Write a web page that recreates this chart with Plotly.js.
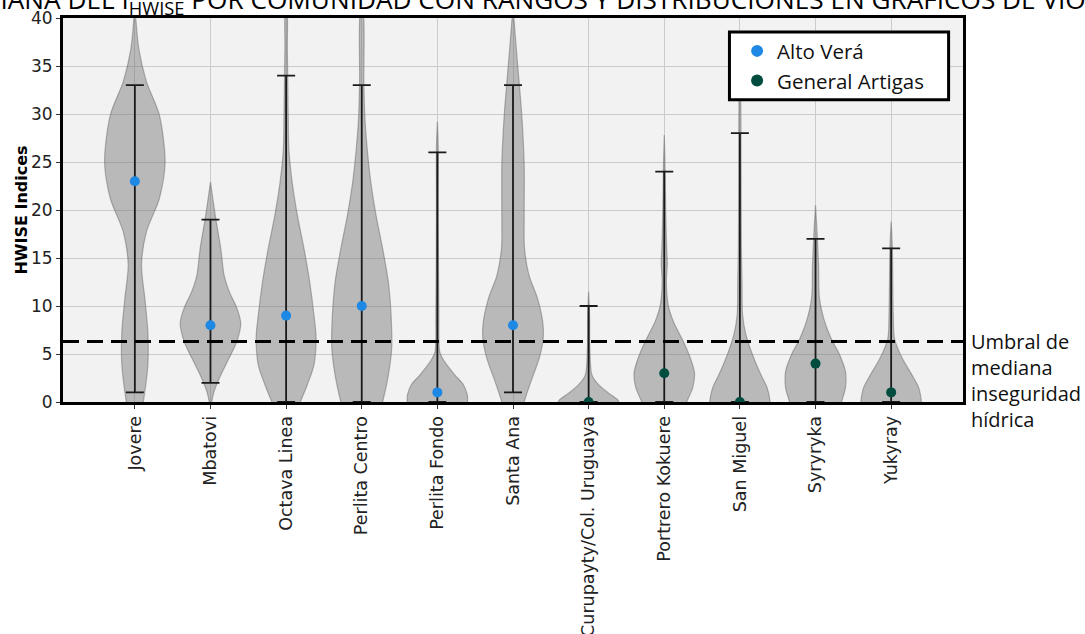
<!DOCTYPE html>
<html>
<head>
<meta charset="utf-8">
<script src="https://cdn.plot.ly/plotly-3.0.1.min.js"></script>
<style>html,body{margin:0;padding:0;background:#fff;} #chart{width:1085px;height:634px;}</style>
</head>
<body>
<div id="chart"></div>
<script>
// ---- data ----
const categories = ["Jovere", "Mbatovi", "Octava Linea", "Perlita Centro", "Perlita Fondo", "Santa Ana",
  "Curupayty/Col. Uruguaya", "Portrero Kokuere", "San Miguel", "Syryryka", "Yukyray"];
const regions = ["Alto Verá", "Alto Verá", "Alto Verá", "Alto Verá", "Alto Verá", "Alto Verá",
  "General Artigas", "General Artigas", "General Artigas", "General Artigas", "General Artigas"];
const medians = [23, 8, 9, 10, 1, 8, 0, 3, 0, 4, 1];
const mins = [1, 2, 0, 0, 0, 1, 0, 0, 0, 0, 0];
const maxs = [33, 19, 34, 33, 26, 33, 10, 24, 28, 17, 16];
const threshold = 6.3;
const regionNames = ["Alto Verá", "General Artigas"];
const yTicks = [0, 5, 10, 15, 20, 25, 30, 35, 40];

// violin density profiles (relative width 0..1 at given HWISE levels)
const violinLevels = [
  [-1, 0, 3.85, 7.3, 10.8, 14.3, 17.7, 21.2, 25, 29.9, 33.4, 36.8, 40, 41.5],
  [-0.6, 0, 1.1, 2.8, 4.6, 6.3, 8.2, 9.8, 11.5, 13.2, 16, 19, 20.9, 22.9],
  [-1, 0, 1.8, 3.85, 6.7, 9.06, 12.5, 16, 19.5, 22.9, 26.4, 29.9, 36.8, 41],
  [-1, 0, 2.8, 5.6, 9.06, 12.5, 16, 19.5, 22.9, 26.4, 29.9, 33.4, 41],
  [-1, 0, 0.73, 1.8, 2.8, 4.2, 5.2, 9.06, 19.5, 26.4, 29.2],
  [-1, 0, 2.1, 4.6, 6.7, 8.4, 10.8, 13.2, 16, 19.5, 24.7, 29.9, 33.4, 36.8, 40, 41.5],
  [-1, 0, 0.2, 0.9, 1.8, 2.8, 5.6, 9.06, 11.5],
  [-1, 0, 1.5, 3.0, 4.6, 6.3, 8.4, 10.1, 12.5, 14.5, 16, 19.5, 24, 27.8],
  [-1, 0, 1.5, 2.8, 4.9, 7, 9.06, 12.5, 16, 24, 31, 34],
  [-1, 0, 1.5, 3.16, 4.9, 6.6, 8.4, 10.8, 14.3, 17.7, 20.5],
  [-1, 0, 1.5, 2.8, 4.6, 6.6, 9.06, 16, 18.8]
];
const violinWidths = [
  [0.22, 0.28, 0.43, 0.43, 0.33, 0.22, 0.38, 0.81, 1.0, 0.81, 0.38, 0.13, 0.03, 0],
  [0, 0.04, 0.12, 0.34, 0.62, 0.87, 1.0, 0.87, 0.62, 0.45, 0.34, 0.18, 0.09, 0],
  [0.35, 0.47, 0.7, 0.92, 0.99, 0.92, 0.78, 0.59, 0.37, 0.2, 0.09, 0.07, 0.04, 0.02],
  [0.6, 0.69, 0.88, 0.99, 0.97, 0.88, 0.69, 0.47, 0.3, 0.18, 0.1, 0.07, 0.03],
  [1.0, 1.0, 0.99, 0.86, 0.58, 0.24, 0.08, 0.05, 0.03, 0.03, 0],
  [0.3, 0.37, 0.59, 0.87, 1.0, 0.98, 0.81, 0.53, 0.38, 0.37, 0.37, 0.29, 0.2, 0.11, 0.03, 0],
  [1.0, 1.0, 0.97, 0.67, 0.33, 0.11, 0.04, 0.03, 0],
  [0.6, 0.74, 0.94, 1.0, 0.86, 0.63, 0.3, 0.13, 0.07, 0.1, 0.08, 0.05, 0.03, 0],
  [1.0, 1.0, 0.9, 0.7, 0.42, 0.2, 0.09, 0.07, 0.05, 0.04, 0.03, 0],
  [0.8, 0.86, 0.99, 0.99, 0.8, 0.52, 0.3, 0.13, 0.1, 0.05, 0],
  [1.0, 1.0, 0.91, 0.69, 0.36, 0.11, 0.07, 0.04, 0]
];

// ---- styles ----
const regionColors = {"Alto Verá": "#1E88E5", "General Artigas": "#004D40"};
const HALF = 0.4; // max half width of a violin in category units
const idx = categories.map((_, i) => i);

const traces = [];
// violins
categories.forEach((c, i) => {
  const ys = violinLevels[i], ws = violinWidths[i];
  const xs = [], yy = [];
  for (let k = 0; k < ys.length; k++) { xs.push(i + HALF * ws[k]); yy.push(ys[k]); }
  for (let k = ys.length - 1; k >= 0; k--) { xs.push(i - HALF * ws[k]); yy.push(ys[k]); }
  xs.push(xs[0]); yy.push(yy[0]);
  traces.push({
    type: "scatter", mode: "lines", x: xs, y: yy, fill: "toself",
    fillcolor: "rgba(115,115,115,0.45)",
    line: {color: "rgba(95,95,95,0.45)", width: 1.2, shape: "spline", smoothing: 0.8},
    hoverinfo: "skip", showlegend: false
  });
});
// range whiskers (min-max)
traces.push({
  type: "scatter", mode: "markers", x: idx, y: medians,
  marker: {size: 1, color: "rgba(0,0,0,0)"},
  error_y: {type: "data", symmetric: false,
    array: maxs.map((m, i) => m - medians[i]),
    arrayminus: mins.map((m, i) => medians[i] - m),
    color: "#1a1a1a", thickness: 1.8, width: 9},
  hoverinfo: "skip", showlegend: false
});
// medians per region
regionNames.forEach(r => {
  const xs = [], ys = [];
  idx.forEach(i => { if (regions[i] === r) { xs.push(i); ys.push(medians[i]); } });
  traces.push({
    type: "scatter", mode: "markers", name: r, x: xs, y: ys,
    marker: {size: 10, color: regionColors[r]}, cliponaxis: true
  });
});

const layout = {
  width: 1085, height: 634,
  paper_bgcolor: "#ffffff", plot_bgcolor: "#f2f2f2",
  margin: {l: 63, r: 122, t: 18, b: 232},
  title: {
    text: "MEDIANA DEL I<sub>HWISE</sub> POR COMUNIDAD CON RANGOS Y DISTRIBUCIONES EN GRÁFICOS DE VIOLÍN",
    font: {family: "Open Sans", size: 26.2, color: "#000"},
    x: 0.493, xref: "container", xanchor: "center",
    y: 1, yref: "container", yanchor: "middle"
  },
  xaxis: {
    range: [-0.95, 10.95], tickmode: "array", tickvals: idx, ticktext: categories,
    tickangle: -90, tickfont: {family: "DejaVu Sans", size: 17.5, color: "#222"},
    ticks: "outside", ticklen: 4, tickcolor: "#333",
    showgrid: true, gridcolor: "#cbcbcb", gridwidth: 1,
    showline: true, linecolor: "#000", linewidth: 3, mirror: true,
    zeroline: false, automargin: false
  },
  yaxis: {
    range: [0, 40], tickmode: "array", tickvals: yTicks,
    tickfont: {family: "DejaVu Sans", size: 17, color: "#222"},
    ticks: "outside", ticklen: 4, tickcolor: "#333",
    showgrid: true, gridcolor: "#cbcbcb", gridwidth: 1,
    showline: true, linecolor: "#000", linewidth: 3, mirror: true,
    zeroline: false, automargin: false,
    title: {text: "<b>HWISE Indices</b>", font: {family: "DejaVu Sans", size: 16, color: "#000"}, standoff: 0}
  },
  shapes: [
    {
      type: "line", xref: "paper", x0: 0, x1: 1, yref: "y", y0: threshold, y1: threshold,
      line: {color: "#000", width: 3, dash: "16px,8px"}, layer: "above"
    },
    { // legend frame
      type: "rect", xref: "paper", yref: "paper", x0: 0.7405, x1: 0.984, y0: 0.787, y1: 0.9635,
      fillcolor: "#ffffff", line: {color: "#000", width: 3}, layer: "above"
    }
  ],
  annotations: [{
    text: "Umbral de<br>mediana<br>inseguridad<br>hídrica",
    xref: "paper", yref: "paper", x: 1.007, y: 0.197, xanchor: "left", yanchor: "top",
    align: "left", showarrow: false,
    font: {family: "Open Sans", size: 20, color: "#111"}
  }],
  legend: {
    x: 0.749, y: 0.966, xanchor: "left", yanchor: "top",
    bgcolor: "rgba(0,0,0,0)", borderwidth: 0,
    font: {family: "Open Sans", size: 20.5, color: "#111"},
    itemsizing: "constant"
  },
  showlegend: true
};

Plotly.newPlot("chart", traces, layout, {displayModeBar: false, staticPlot: true});
</script>
</body>
</html>
